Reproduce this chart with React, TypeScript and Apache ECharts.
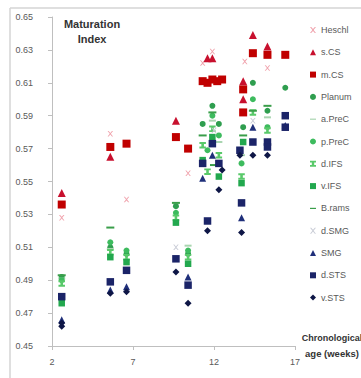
import React, { useEffect, useRef } from 'react';
import * as echarts from 'echarts';

// [age in weeks, maturation index]
const heschl = [[2.6, 0.528], [5.6, 0.579], [6.6, 0.539], [10.4, 0.555], [11.3, 0.622], [11.9, 0.629], [13.9, 0.623], [15.3, 0.619]];
const sCS = [[2.6, 0.543], [5.6, 0.565], [9.65, 0.587], [11.6, 0.625], [11.9, 0.625], [13.8, 0.611], [13.8, 0.600], [14.4, 0.639], [15.3, 0.632]];
const mCS = [[2.6, 0.536], [5.6, 0.571], [6.6, 0.573], [9.65, 0.577], [10.4, 0.570], [11.3, 0.611], [11.6, 0.610], [11.9, 0.612], [12.2, 0.611], [12.5, 0.612], [13.8, 0.606], [13.8, 0.592], [14.4, 0.628], [15.3, 0.627], [16.4, 0.627]];
const planum = [[2.6, 0.492], [5.6, 0.510], [6.6, 0.506], [9.65, 0.535], [10.4, 0.506], [11.9, 0.596], [11.3, 0.585], [12.3, 0.585], [13.8, 0.583], [14.4, 0.610], [15.3, 0.593], [16.4, 0.607]];
const aPreC = [[2.6, 0.491], [5.6, 0.509], [10.4, 0.511], [11.9, 0.587], [12.3, 0.574], [13.7, 0.566], [15.3, 0.589]];
const pPreC = [[2.6, 0.490], [5.6, 0.513], [6.6, 0.508], [9.65, 0.531], [10.4, 0.508], [11.9, 0.590], [11.6, 0.569], [12.3, 0.578], [13.7, 0.561], [14.4, 0.600], [15.3, 0.583]];
const dIFS = [[2.6, 0.488], [5.6, 0.507], [6.6, 0.504], [9.65, 0.528], [10.4, 0.504], [11.9, 0.582], [11.3, 0.572], [12.3, 0.566], [11.6, 0.556], [13.7, 0.553], [14.4, 0.592], [15.3, 0.581]];
const vIFS = [[2.6, 0.476], [5.6, 0.504], [6.6, 0.501], [9.65, 0.525], [10.4, 0.500], [11.9, 0.577], [11.3, 0.563], [12.3, 0.553], [13.7, 0.549], [13.8, 0.574]];
const bRams = [[2.6, 0.493], [5.6, 0.522], [9.65, 0.537], [11.9, 0.592], [11.3, 0.578], [12.0, 0.560], [13.8, 0.578], [14.4, 0.593], [15.3, 0.596]];
const dSMG = [[9.65, 0.510], [12.0, 0.581], [14.4, 0.587]];
const smg = [[2.6, 0.466], [5.6, 0.484], [6.6, 0.486], [10.4, 0.492], [11.3, 0.552], [11.9, 0.566], [13.7, 0.528], [14.4, 0.583], [16.4, 0.584]];
const dSTS = [[2.6, 0.480], [5.6, 0.489], [6.6, 0.496], [9.65, 0.503], [10.4, 0.487], [11.3, 0.561], [11.6, 0.526], [11.9, 0.573], [12.3, 0.561], [13.6, 0.569], [13.7, 0.537], [14.4, 0.574], [15.3, 0.574], [15.3, 0.571], [16.4, 0.590], [16.4, 0.583]];
const vSTS = [[2.6, 0.462], [2.6, 0.464], [5.6, 0.482], [6.6, 0.483], [9.65, 0.495], [10.4, 0.476], [11.6, 0.520], [12.3, 0.545], [12.5, 0.557], [13.6, 0.566], [13.7, 0.519], [14.4, 0.566], [15.3, 0.566]];

const xTicks = { min: 2, max: 17, interval: 5 };
const yTicks = { min: 0.45, max: 0.65, interval: 0.02 };

const X_PATH = 'path://M0,0L2,0L5,3.5L8,0L10,0L6,5L10,10L8,10L5,6.5L2,10L0,10L4,5Z';
const DASH_PATH = 'path://M0,0H10V2H0Z';
const IBEAM_PATH = 'path://M0,0H10V3H7V7H10V10H0V7H3V3H0Z';

const seriesDefs = [
  { name: 'Heschl', data: heschl, symbol: X_PATH, size: 5.5, color: '#f0a3ad' },
  { name: 's.CS', data: sCS, symbol: 'triangle', size: 8, color: '#c8102e' },
  { name: 'm.CS', data: mCS, symbol: 'rect', size: 8, color: '#c00000' },
  { name: 'Planum', data: planum, symbol: 'circle', size: 6, color: '#2f9e4f' },
  { name: 'a.PreC', data: aPreC, symbol: DASH_PATH, size: [7, 2], color: '#a9d5b0' },
  { name: 'p.PreC', data: pPreC, symbol: 'circle', size: 6, color: '#3dbb5e' },
  { name: 'd.IFS', data: dIFS, symbol: IBEAM_PATH, size: 6.5, color: '#59c96a' },
  { name: 'v.IFS', data: vIFS, symbol: 'rect', size: 6.5, color: '#22a84e' },
  { name: 'B.rams', data: bRams, symbol: DASH_PATH, size: [8, 2], color: '#3a9e4a' },
  { name: 'd.SMG', data: dSMG, symbol: X_PATH, size: 5.5, color: '#c9ccd6' },
  { name: 'SMG', data: smg, symbol: 'triangle', size: 7, color: '#1f2f7a' },
  { name: 'd.STS', data: dSTS, symbol: 'rect', size: 7.5, color: '#1b2468' },
  { name: 'v.STS', data: vSTS, symbol: 'diamond', size: 7, color: '#0e1646' },
];

const FONT = '"Liberation Sans", Arial, sans-serif';

export default function App() {
  const ref = useRef<HTMLDivElement>(null);
  useEffect(() => {
    if (!ref.current) return;
    const chart = echarts.init(ref.current, null, { renderer: 'svg' });
    chart.setOption({
      animation: false,
      backgroundColor: '#ffffff',
      textStyle: { fontFamily: FONT },
      grid: { left: 52, right: 66, top: 17, bottom: 32, containLabel: false, outerBoundsMode: 'none' },
      xAxis: {
        type: 'value',
        min: xTicks.min,
        max: xTicks.max,
        interval: xTicks.interval,
        axisLine: { show: true, lineStyle: { color: '#bfbfbf', width: 1 } },
        axisTick: { show: true, length: 4, lineStyle: { color: '#bfbfbf' } },
        splitLine: { show: false },
        axisLabel: { color: '#595959', fontSize: 9, margin: 11, fontFamily: FONT },
      },
      yAxis: {
        type: 'value',
        min: yTicks.min,
        max: yTicks.max,
        interval: yTicks.interval,
        axisLine: { show: true, lineStyle: { color: '#bfbfbf', width: 1 } },
        axisTick: { show: true, length: 4, lineStyle: { color: '#bfbfbf' } },
        splitLine: { show: false },
        axisLabel: { color: '#595959', fontSize: 9, margin: 19, fontFamily: FONT, formatter: (v: number) => v.toFixed(2) },
      },
      legend: {
        orient: 'vertical',
        left: 310,
        top: 25,
        itemWidth: 6,
        itemHeight: 6,
        itemGap: 12.3,
        padding: 0,
        textStyle: { color: '#595959', fontSize: 9, lineHeight: 10, fontFamily: FONT },
        data: seriesDefs.map((s) => s.name),
      },
      graphic: [
        { type: 'line', shape: { x1: 10, y1: 8, x2: 10, y2: 378 }, style: { stroke: '#d4d4d4', lineWidth: 1.5 }, silent: true },
        { type: 'line', shape: { x1: 10, y1: 8, x2: 361, y2: 8 }, style: { stroke: '#d4d4d4', lineWidth: 1.5 }, silent: true },
        { type: 'text', x: 92, y: 24, style: { text: 'Maturation', fontSize: 11, fontWeight: 'bold', fill: '#333', fontFamily: FONT, align: 'center', verticalAlign: 'middle' } },
        { type: 'text', x: 92, y: 39, style: { text: 'Index', fontSize: 11, fontWeight: 'bold', fill: '#333', fontFamily: FONT, align: 'center', verticalAlign: 'middle' } },
        { type: 'text', x: 332, y: 338, style: { text: 'Chronological', fontSize: 9, fontWeight: 'bold', fill: '#333', fontFamily: FONT, align: 'center', verticalAlign: 'middle' } },
        { type: 'text', x: 332, y: 353, style: { text: 'age (weeks)', fontSize: 9.5, fontWeight: 'bold', fill: '#333', fontFamily: FONT, align: 'center', verticalAlign: 'middle' } },
      ],
      series: seriesDefs.map((s) => ({
        name: s.name,
        type: 'scatter',
        data: s.data,
        symbol: s.symbol,
        symbolSize: s.size,
        itemStyle: { color: s.color, opacity: 1 },
        emphasis: { disabled: true },
      })),
    });
    return () => chart.dispose();
  }, []);
  return (
    <div style={{ position: 'fixed', left: 0, top: 0, width: 361, height: 378, background: '#fff' }}>
      <div ref={ref} style={{ width: 361, height: 378 }} />
    </div>
  );
}
